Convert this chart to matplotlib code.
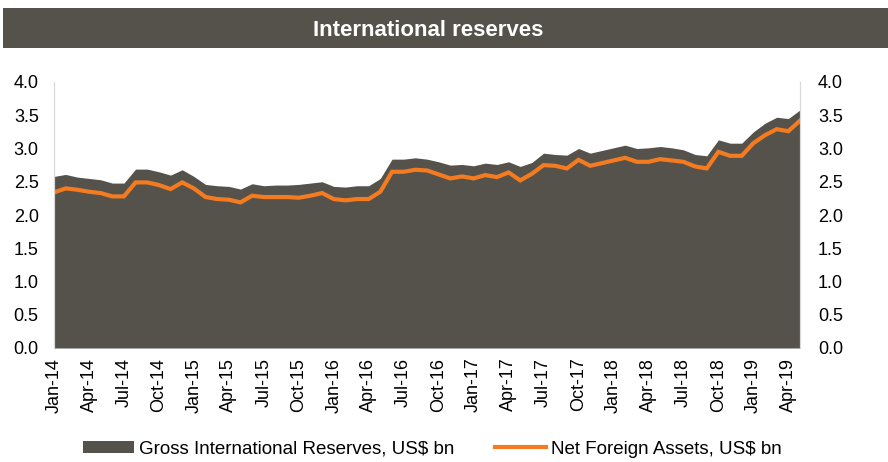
import matplotlib
matplotlib.use("Agg")
import matplotlib.pyplot as plt
from matplotlib.patches import Rectangle, Patch
from matplotlib.lines import Line2D
import numpy as np

plt.rcParams['font.family'] = ['Liberation Sans', 'DejaVu Sans']

# monthly, Jan-14 .. May-19
months = ['Jan', 'Feb', 'Mar', 'Apr', 'May', 'Jun', 'Jul', 'Aug', 'Sep', 'Oct', 'Nov', 'Dec']
dates = [f"{m}-{y}" for y in range(14, 20) for m in months][:65]

gross = [2.58, 2.61, 2.57, 2.55, 2.53, 2.48, 2.48, 2.69, 2.69, 2.65, 2.60, 2.68,
         2.58, 2.46, 2.44, 2.43, 2.39, 2.47, 2.44, 2.45, 2.45, 2.46, 2.48, 2.50,
         2.43, 2.42, 2.44, 2.44, 2.55, 2.84, 2.84, 2.86, 2.84, 2.80, 2.75, 2.76,
         2.74, 2.78, 2.76, 2.80, 2.73, 2.79, 2.93, 2.91, 2.90, 3.00, 2.93, 2.97,
         3.01, 3.05, 3.00, 3.01, 3.03, 3.01, 2.98, 2.91, 2.89, 3.13, 3.08, 3.08,
         3.25, 3.38, 3.47, 3.45, 3.58]
nfa = [2.34, 2.40, 2.38, 2.35, 2.33, 2.28, 2.28, 2.49, 2.49, 2.45, 2.39, 2.49,
       2.40, 2.27, 2.24, 2.23, 2.19, 2.29, 2.27, 2.27, 2.27, 2.26, 2.29, 2.33,
       2.24, 2.22, 2.24, 2.24, 2.35, 2.65, 2.65, 2.68, 2.67, 2.61, 2.55, 2.58,
       2.55, 2.60, 2.57, 2.64, 2.52, 2.62, 2.75, 2.74, 2.70, 2.83, 2.74, 2.78,
       2.82, 2.86, 2.80, 2.80, 2.84, 2.82, 2.80, 2.73, 2.70, 2.95, 2.89, 2.89,
       3.08, 3.20, 3.29, 3.26, 3.42]

dark = '#54524A'
orange = '#F47B20'

fig = plt.figure(figsize=(8.88, 4.62), dpi=100)

# title bar
fig.patches.append(Rectangle((0.003, 1 - 48 / 462), 0.997, 40 / 462,
                             transform=fig.transFigure, facecolor=dark,
                             edgecolor='none', zorder=0))
fig.text(0.482, 1 - 31 / 462, 'International reserves', color='white',
         fontsize=16, fontweight='bold', ha='center', va='center')

ax = fig.add_axes([54 / 888, 1 - 348 / 462, 746 / 888, 266 / 462])
x = np.arange(len(gross))
ax.fill_between(x, 0, gross, color=dark, linewidth=0)
ax.plot(x, nfa, color=orange, linewidth=3, solid_joinstyle='miter')

ax.set_xlim(0, len(gross) - 1)
ax.set_ylim(0, 4)
yt = np.arange(0, 4.01, 0.5)
ax.set_yticks(yt)
ax.set_yticklabels([f"{v:.1f}" for v in yt], fontsize=13)
ax.set_xticks(x[::3])
ax.set_xticklabels(dates[::3], rotation=90, fontsize=13)
ax.tick_params(axis='both', length=0)
ax.tick_params(axis='y', pad=11)
ax.tick_params(axis='x', pad=7)

ax2 = ax.twinx()
ax2.set_ylim(0, 4)
ax2.set_yticks(yt)
ax2.set_yticklabels([f"{v:.1f}" for v in yt], fontsize=13)
ax2.tick_params(axis='y', length=0, pad=13)

for a in (ax, ax2):
    for s in ('top', 'bottom'):
        a.spines[s].set_visible(False)
    a.spines['left'].set_color('#D9D9D9')
    a.spines['right'].set_color('#D9D9D9')

handles = [Patch(facecolor=dark, edgecolor='none'),
           Line2D([0], [0], color=orange, linewidth=3)]
fig.legend(handles, ['Gross International Reserves, US$ bn', 'Net Foreign Assets, US$ bn'],
           loc='center', bbox_to_anchor=(0.487, 1 - 449 / 462), ncol=2, frameon=False,
           fontsize=13.5, handlelength=2.7, handleheight=0.55, columnspacing=2.2,
           handletextpad=0.25)

fig.savefig('out.png', dpi=100)
